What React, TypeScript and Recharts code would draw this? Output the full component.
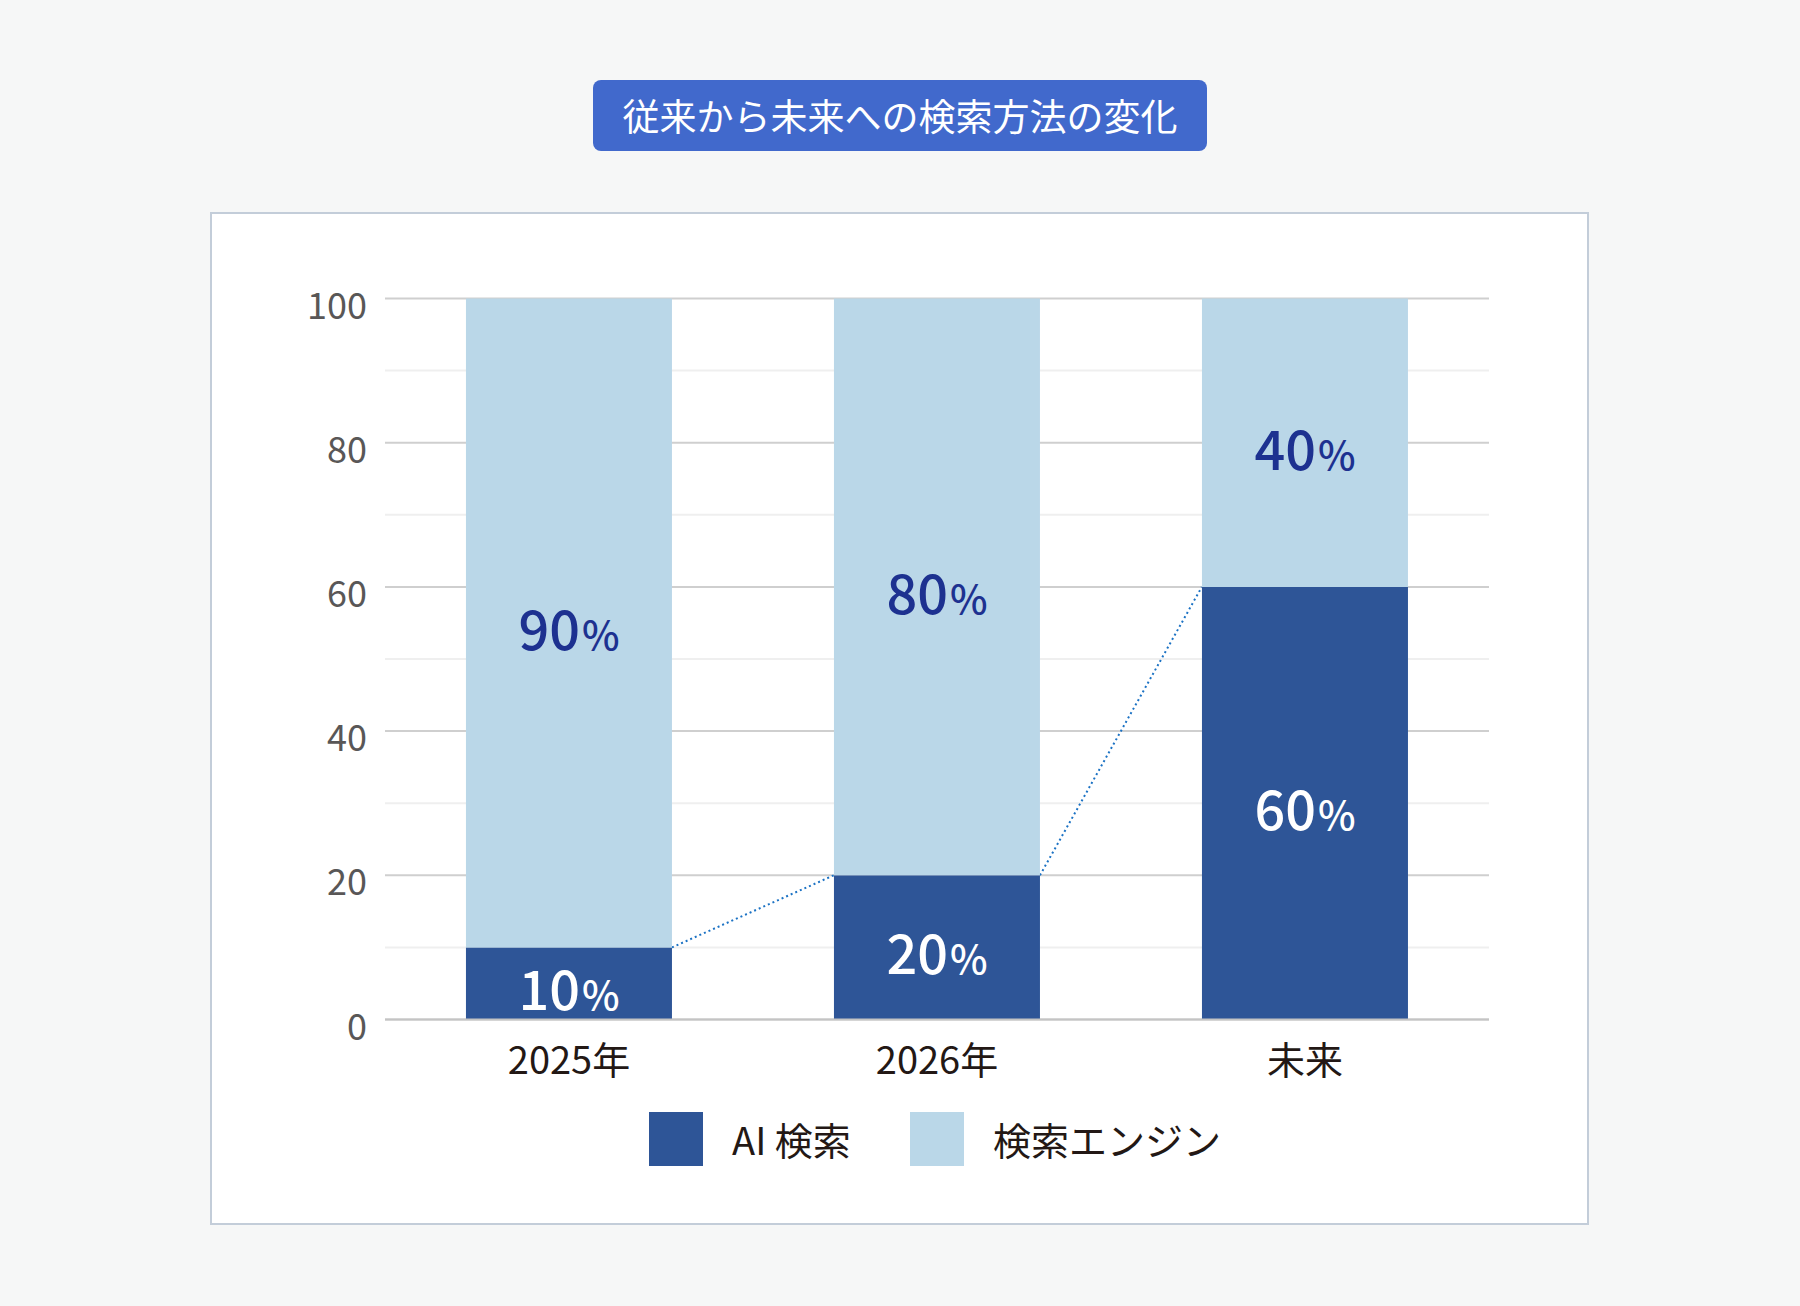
import React from 'react';
import { BarChart, Bar, XAxis, YAxis, CartesianGrid, Legend, LabelList } from 'recharts';

const title = '従来から未来への検索方法の変化';
const categories = ['2025年', '2026年', '未来'];
const aiSearch = [10, 20, 60];
const searchEngine = [90, 80, 40];
const yTicks = [0, 20, 40, 60, 80, 100];
const majorGridValues = [0, 20, 40, 60, 80, 100];
const minorGridValues = [10, 30, 50, 70, 90];
const seriesNames = { ai: 'AI 検索', engine: '検索エンジン' };

const data = categories.map((name, i) => ({ name, ai: aiSearch[i], engine: searchEngine[i] }));

const FONT = "'Noto Sans CJK JP', 'Noto Sans', sans-serif";
const DARK = '#2E5597';
const LIGHT = '#BAD7E8';
const GAP = 0.22;

const AiBarShape = (props: any) => {
  const { x, y, width, height, index, fill } = props;
  const value = aiSearch[index];
  const base = y + height;
  const unit = value ? height / value : 0;
  const step = width / (1 - 2 * GAP);
  let connector = null;
  if (index < aiSearch.length - 1) {
    const nextTop = base - aiSearch[index + 1] * unit;
    connector = (
      <line
        x1={x + width}
        y1={y}
        x2={x + step}
        y2={nextTop}
        stroke="#1B72C4"
        strokeWidth={2}
        strokeDasharray="2 3"
      />
    );
  }
  return (
    <g>
      <rect x={x} y={y} width={width} height={height} fill={fill} />
      {connector}
    </g>
  );
};

const makeLabel = (values: number[], color: string) => (props: any) => {
  const { x, y, width, height, index } = props;
  const v = values[index];
  return (
    <text
      x={x + width / 2}
      y={y + height / 2 + 27}
      textAnchor="middle"
      fill={color}
      fontWeight={500}
      fontFamily={FONT}
    >
      <tspan fontSize={54}>{v}</tspan>
      <tspan fontSize={40} dx={2}>%</tspan>
    </text>
  );
};

const XTick = (props: any) => {
  const { x, y, payload } = props;
  return (
    <text x={x} y={y + 52} textAnchor="middle" fill="#231815" fontSize={38} fontFamily={FONT}>
      {payload.value}
    </text>
  );
};

const YTick = (props: any) => {
  const { x, y, payload } = props;
  return (
    <text x={x} y={y + 20} textAnchor="end" fill="#595757" fontSize={36} fontFamily={FONT}>
      {payload.value}
    </text>
  );
};

const LegendContent = (props: any) => {
  const items = props.payload || [];
  return (
    <div
      style={{
        display: 'flex',
        justifyContent: 'center',
        alignItems: 'center',
        height: 54,
        fontFamily: FONT,
        fontSize: 38,
        color: '#231815',
        marginLeft: -4,
      }}
    >
      {items.map((it: any, i: number) => (
        <div
          key={i}
          style={{ display: 'flex', alignItems: 'center', marginRight: i < items.length - 1 ? 59 : 0 }}
        >
          <div style={{ width: 54, height: 54, background: it.color, marginRight: 29 }} />
          <span style={{ lineHeight: '54px', whiteSpace: 'nowrap' }}>{it.value}</span>
        </div>
      ))}
    </div>
  );
};

export default function App() {
  return (
    <div
      style={{
        position: 'absolute',
        left: 0,
        top: 0,
        width: 1800,
        height: 1306,
        background: '#F6F7F7',
        fontFamily: FONT,
        overflow: 'hidden',
      }}
    >
      <div
        style={{
          position: 'absolute',
          left: 593,
          top: 80,
          width: 614,
          height: 71,
          background: '#4169CC',
          borderRadius: 8,
          color: '#FFFFFF',
          fontSize: 37,
          fontWeight: 400,
          lineHeight: '71px',
          textAlign: 'center',
          whiteSpace: 'nowrap',
        }}
      >
        {title}
      </div>
      <div
        style={{
          position: 'absolute',
          left: 210,
          top: 212,
          width: 1379,
          height: 1013,
          boxSizing: 'border-box',
          background: '#FFFFFF',
          border: '2px solid #C3CDD9',
        }}
      />
      <div style={{ position: 'absolute', left: 210, top: 212, width: 1379, height: 1013 }}>
        <BarChart
          width={1379}
          height={1013}
          data={data}
          margin={{ top: 86.5, right: 100, bottom: 59, left: 0 }}
          barCategoryGap="22%"
        >
          <CartesianGrid
            vertical={false}
            horizontalValues={minorGridValues}
            stroke="#EFEFEF"
            strokeWidth={2}
          />
          <CartesianGrid
            vertical={false}
            horizontalValues={majorGridValues}
            stroke="#CFCFCF"
            strokeWidth={2}
          />
          <XAxis
            dataKey="name"
            axisLine={{ stroke: '#C4C4C4', strokeWidth: 2 }}
            tickLine={false}
            tickSize={0}
            height={92.5}
            tick={<XTick />}
            interval={0}
          />
          <YAxis
            domain={[0, 100]}
            ticks={yTicks}
            axisLine={false}
            tickLine={false}
            tickSize={0}
            tickMargin={18}
            width={175}
            tick={<YTick />}
          />
          <Legend
            verticalAlign="bottom"
            content={<LegendContent />}
            wrapperStyle={{ left: 175, width: 1104 }}
          />
          <Bar
            dataKey="ai"
            name={seriesNames.ai}
            stackId="s"
            fill={DARK}
            shape={AiBarShape}
            isAnimationActive={false}
          >
            <LabelList dataKey="ai" content={makeLabel(aiSearch, '#FFFFFF')} />
          </Bar>
          <Bar
            dataKey="engine"
            name={seriesNames.engine}
            stackId="s"
            fill={LIGHT}
            isAnimationActive={false}
          >
            <LabelList dataKey="engine" content={makeLabel(searchEngine, '#1D3190')} />
          </Bar>
        </BarChart>
      </div>
    </div>
  );
}
